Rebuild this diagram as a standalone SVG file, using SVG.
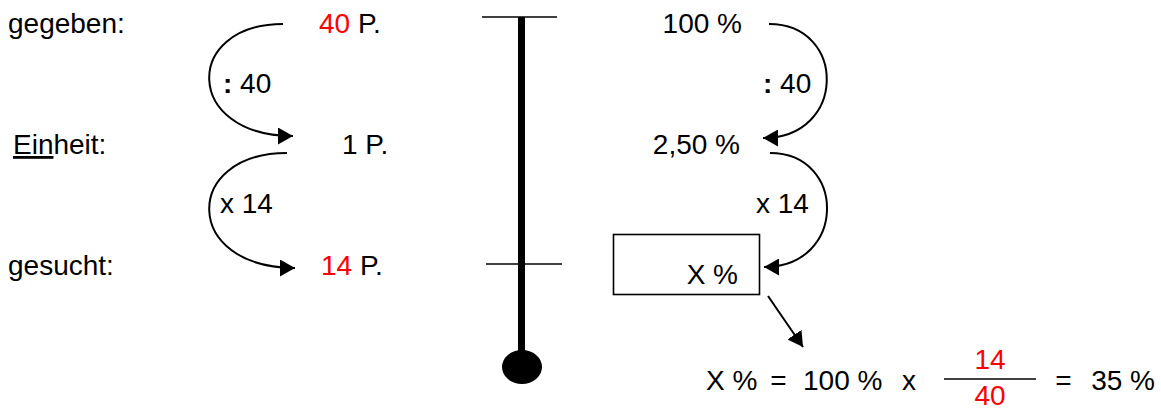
<svg xmlns="http://www.w3.org/2000/svg" width="1161" height="412" viewBox="0 0 1161 412">
<style>
text{font-family:"Liberation Sans",Arial,sans-serif;font-size:28px;fill:#000}
.red{fill:#ff0000}
.conn{fill:none;stroke:#000;stroke-width:2}
.thin{stroke:#000;stroke-width:1.6;fill:none}
</style>
<defs>
<marker id="ah" markerUnits="userSpaceOnUse" markerWidth="16" markerHeight="17" refX="15" refY="8.5" orient="auto">
<path d="M0,0 L15,8.5 L0,17 z" fill="#000"/>
</marker>
</defs>
<rect width="1161" height="412" fill="#fff"/>

<g id="labels-left">
<text x="8" y="33">gegeben:</text>
<text x="13" y="154"><tspan text-decoration="underline">Ein</tspan>heit:</text>
<text x="8" y="275">gesucht:</text>
</g>

<g id="node-40P"><text x="319" y="33"><tspan class="red">40</tspan> P.</text></g>
<g id="node-1P"><text x="342" y="154">1 P.</text></g>
<g id="node-14P"><text x="321" y="275"><tspan class="red">14</tspan> P.</text></g>

<g id="node-100"><text x="742" y="33" text-anchor="end">100 %</text></g>
<g id="node-250"><text x="740" y="154" text-anchor="end">2,50 %</text></g>
<g id="node-X">
<rect x="613.5" y="234.5" width="146" height="60" class="thin"/>
<text x="738" y="284" text-anchor="end">X %</text>
</g>

<g id="scale">
<line x1="482" y1="17" x2="557" y2="17" class="thin"/>
<line x1="486" y1="264" x2="562" y2="264" class="thin"/>
<rect x="518" y="17" width="7" height="340" fill="#000"/>
<ellipse cx="522" cy="367" rx="20" ry="17" fill="#000"/>
</g>

<g id="connectors">
<path class="conn" d="M283,24 C183,24 183,136 293,136" marker-end="url(#ah)"/>
<path class="conn" d="M287,153 C182,153 182,268 295,268" marker-end="url(#ah)"/>
<path class="conn" d="M769,24 C847,24 847,138 763,138" marker-end="url(#ah)"/>
<path class="conn" d="M770,153 C847,153 847,267 764,267" marker-end="url(#ah)"/>
<line class="conn" x1="768" y1="296" x2="803" y2="347" marker-end="url(#ah)"/>
</g>

<g id="edge-labels">
<text x="223" y="93"><tspan font-weight="bold">:</tspan> 40</text>
<text x="220" y="213">x 14</text>
<text x="763" y="93"><tspan font-weight="bold">:</tspan> 40</text>
<text x="756" y="213">x 14</text>
</g>

<g id="formula">
<text x="706" y="390">X %</text>
<text x="778.5" y="390" text-anchor="middle">=</text>
<text x="803" y="390">100 %</text>
<text x="909" y="390" text-anchor="middle">x</text>
<line x1="944" y1="379" x2="1036" y2="379" class="thin"/>
<text x="990" y="369" text-anchor="middle" class="red">14</text>
<text x="990" y="405" text-anchor="middle" class="red">40</text>
<text x="1063.5" y="390" text-anchor="middle">=</text>
<text x="1155" y="390" text-anchor="end">35 %</text>
</g>
</svg>
